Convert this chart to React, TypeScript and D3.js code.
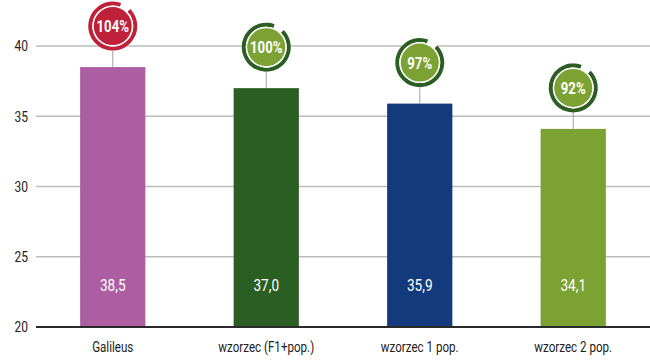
import React from "react";
import * as d3 from "d3";

const categories = ["Galileus", "wzorzec (F1+pop.)", "wzorzec 1 pop.", "wzorzec 2 pop."];
const values = [38.5, 37.0, 35.9, 34.1];
const valueLabels = ["38,5", "37,0", "35,9", "34,1"];
const percentLabels = ["104%", "100%", "97%", "92%"];
const yTicks = [20, 25, 30, 35, 40];

const barColors = ["#ad5ea3", "#2b5e22", "#133a7c", "#7ba232"];
const badgeRing = ["#c0213a", "#2b5e22", "#2b5e22", "#2b5e22"];
const badgeFill = ["#c0213a", "#7ba232", "#7ba232", "#7ba232"];

const W = 650;
const H = 360;
const FONT = "Roboto, sans-serif";
const SX = 0.8;

function CText(props: { x: number; y: number; anchor?: string; size: number; fill: string; weight?: string | number; children: React.ReactNode }) {
  const { x, y, anchor = "middle", size, fill, weight = 400, children } = props;
  return (
    <text
      transform={`translate(${x},${y}) scale(${SX},1)`}
      dy="0.35em"
      textAnchor={anchor}
      fontSize={size}
      fill={fill}
      fontWeight={weight}
    >
      {children}
    </text>
  );
}

export default function App() {
  const x = d3.scaleBand<string>().domain(categories).range([36, 650]).paddingInner(0.575).paddingOuter(0.2875);
  const y = d3.scaleLinear().domain([20, 40]).range([327, 46]);
  const ringArc = d3.arc<any>().innerRadius(20.5).outerRadius(24.5);
  const gapStart = 0.35;
  const gapEnd = 0.8;
  const ringPath = ringArc({ startAngle: gapEnd, endAngle: Math.PI * 2 + gapStart } as any) || "";
  const badgeOffset = 41;
  const r = 24.5;

  return (
    <svg width={W} height={H} style={{ position: "absolute", left: 0, top: 0, background: "#fff" }} fontFamily={FONT}>
      {yTicks.map((t) => (
        <g key={t}>
          {t !== 20 && <line x1={36} x2={650} y1={y(t)} y2={y(t)} stroke="#bcbcbc" strokeWidth={1.5} />}
          <CText x={28} y={y(t)} anchor="end" size={15} fill="#222">
            {t}
          </CText>
        </g>
      ))}
      {categories.map((c, i) => {
        const bx = x(c)!;
        const bw = x.bandwidth();
        const cx = bx + bw / 2;
        const top = y(values[i]);
        const cy = top - badgeOffset;
        return (
          <g key={c}>
            <rect x={bx} y={top} width={bw} height={y(20) - top} fill={barColors[i]} />
            <CText x={cx} y={285} size={17} fill="#fff">
              {valueLabels[i]}
            </CText>
            <line x1={cx} x2={cx} y1={cy + r} y2={top} stroke="#a0a0a0" strokeWidth={1} />
            <g transform={`translate(${cx},${cy})`}>
              <circle r={r} fill="#fff" />
              <path d={ringPath} fill={badgeRing[i]} />
              <circle r={20.5} fill="#fff" />
              <circle r={19} fill={badgeFill[i]} />
              <CText x={0} y={0.5} size={16.5} weight={700} fill="#fff">
                {percentLabels[i]}
              </CText>
            </g>
            <CText x={cx} y={347} size={14.5} fill="#222">
              {c}
            </CText>
          </g>
        );
      })}
      <line x1={36} x2={650} y1={y(20)} y2={y(20)} stroke="#2a2a2a" strokeWidth={2} />
    </svg>
  );
}
